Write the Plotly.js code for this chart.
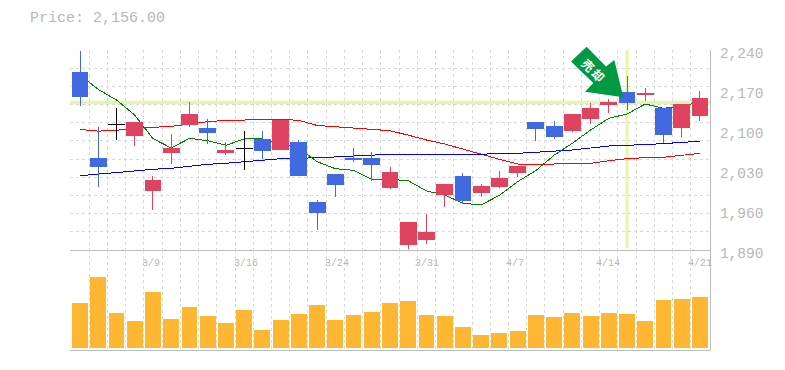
<!DOCTYPE html>
<html><head><meta charset="utf-8">
<script src="https://cdn.plot.ly/plotly-3.0.0.min.js"></script>
<style>html,body{margin:0;padding:0;background:#fff}
.scatterlayer path,.boxlayer path,.barlayer path{shape-rendering:crispEdges}</style>
</head><body><div id="c" style="width:785px;height:370px"></div>
<script>
// all prices in yen, volumes in thousands of shares
const index=[...Array(35).keys()];
const opens =[2201.5,2051,2109.9,2090.1,1993.8,2060.3,2109.3,2103.5,2060.3,2067.9,2083.1,2065.6,2077.3,1972.3,2021.3,2051,2051,1999.1,1899.4,1908.1,1986.8,2019.5,1990.3,2000.8,2025.3,2112.3,2107,2098.8,2119.3,2143.8,2166.5,2162.8,2136.8,2104.1,2125.1];
const closes=[2158.3,2035.8,2110.1,2114,2010.8,2066.8,2128,2095.3,2065,2068.1,2063.8,2115.8,2020.1,1955.3,2004.3,2048.1,2039.3,2026.5,1937.3,1921.5,2003.8,1976.3,2002,2014.3,2037,2103.5,2088.3,2126.3,2138.5,2147.3,2147.8,2163.2,2091.8,2145.5,2156];
const highs =[2238.2,2105.3,2138.5,2114,2019.5,2093,2149,2119.3,2079,2098.3,2098.3,2115.8,2082.5,1977.5,2021.3,2068.5,2061.5,2035.8,1939,1953,2003.8,2024.8,2005.5,2028.3,2037,2112.3,2115.8,2126.3,2147.3,2153.7,2194.5,2173.5,2136.8,2145.5,2168.3];
const lows  =[2142.6,2000.8,2083.1,2072.6,1960.6,2041.1,2105.8,2076.1,2056.8,2030.6,2049.8,2065.6,2020.1,1925.6,1983.3,2044.6,2011.3,1996.8,1892.3,1901.1,1965.8,1971.1,1983.3,1998.5,2017.8,2080.8,2084.8,2096.5,2110.5,2129.8,2135,2150.8,2076.7,2088.3,2115.8];
const black =[2,9];
const maShort=[2196,2171,2152.5,2126,2085,2068.5,2085.4,2081.3,2073.2,2084.3,2084.3,2075.5,2068,2044.6,2032.3,2029.4,2013.7,2013.7,2011.3,1993.3,1986.3,1971.7,1968.8,1985.7,2009.6,2029,2056,2076.7,2100,2120.4,2128,2145.5,2138,2141,2149.6];
const maMid  =[2101,2098,2099.4,2103,2104.7,2106.4,2110.5,2114.6,2116.9,2116.9,2118,2118.7,2116.9,2108,2105.8,2103,2101,2098.8,2091,2082.5,2075.5,2066.2,2056.8,2048.7,2040.5,2040,2040.5,2041.7,2041.7,2046.3,2049.8,2051.6,2052.2,2055.7,2059.2];
const maLong =[2020.1,2022.4,2024.8,2028.3,2031.2,2033,2036.4,2040,2041.7,2044.6,2047.5,2049.8,2050.4,2051,2052.8,2054.5,2056.3,2057.4,2056.3,2056.8,2056.8,2057.4,2057.4,2059.2,2059.2,2061,2062.7,2065,2068.5,2072,2073.2,2074.3,2076.1,2078.4,2080.2];
const volume =[45,71,35,27,56,29,41,32,25,38,18,28,34,43,28,33,36,45,47,33,32,21,13,15,17,33,31,35,32,35,34,27,48,49,51];
const dateLabels=["3/9","3/16","3/24","3/31","4/7","4/14","4/21"];
const dateSlots=[3.5,8.5,13.5,18.43,23.43,28.4,33.45];
const priceTicks=[2240,2170,2100,2030,1960,1890];
const title="Price: 2,156.00";
const signal="売\u2009却";
const refPrice=2148, refIndex=30;

const MONO='"Liberation Mono",monospace', GRAY='#b8b8b8', GRID='#d8d8d8', DASH='3px,3px';
const RED='#e0435f', BLUE='#4169e1', BAND='#e6f5a8', ARROW='#009944';
const xr=[-0.55,34.55];
const isBlack=i=>black.includes(i);
const pick=(a,f)=>a.filter((_,i)=>f(i));
const lineTrace=(y,c)=>({type:'scatter',mode:'lines',x:index,y,xaxis:'x',yaxis:'y',line:{color:c,width:1},hoverinfo:'skip',showlegend:false});
const candle=(f,up,dn)=>({type:'candlestick',x:pick(index,f),open:pick(opens,f),high:pick(highs,f),low:pick(lows,f),close:pick(closes,f),
  xaxis:'x',yaxis:'y2',whiskerwidth:0,showlegend:false,
  increasing:{line:{color:up,width:1},fillcolor:up},decreasing:{line:{color:dn,width:1},fillcolor:dn}});
const data=[
  lineTrace(maMid,'#ff0000'),lineTrace(maLong,'#0000ff'),lineTrace(maShort,'#008000'),
  candle(i=>!isBlack(i),RED,BLUE),
  candle(isBlack,'#000000','#000000'),
  {type:'bar',x:index,y:volume,xaxis:'x3',yaxis:'y3',marker:{color:'#ffb733',line:{width:0}},width:0.87,showlegend:false}
];
const vGrid={tickmode:'linear',tick0:-0.5,dtick:1,showgrid:true,gridcolor:GRID,griddash:DASH,gridwidth:1,showticklabels:false,ticks:'',zeroline:false,range:xr,fixedrange:true};
const layout={
  width:785,height:370,margin:{l:70,r:75,t:50,b:20},paper_bgcolor:'#fff',plot_bgcolor:'rgba(0,0,0,0)',showlegend:false,boxgap:0.13,boxgroupgap:0,bargap:0.12,
  xaxis:Object.assign({},vGrid,{anchor:'y',domain:[0,1],rangeslider:{visible:false},showline:true,linecolor:'#bdbdbd',linewidth:1}),
  xaxis3:Object.assign({},vGrid,{anchor:'y3',domain:[0,1],showline:true,linecolor:'#bdbdbd',linewidth:1}),
  yaxis:{domain:[1/3,1],range:[1890,2240],tickmode:'linear',tick0:1890,dtick:350/11,showgrid:true,gridcolor:GRID,griddash:DASH,gridwidth:1,showticklabels:false,ticks:'',zeroline:false,anchor:'x',fixedrange:true},
  yaxis2:{domain:[1/3,1],range:[1890,2240],overlaying:'y',side:'right',anchor:'x',tickmode:'array',tickvals:priceTicks,ticktext:priceTicks.map(v=>v.toLocaleString('en-US')),showgrid:false,zeroline:false,ticks:'',ticklabelstandoff:6,ticklabelshift:3,tickfont:{family:MONO,size:14.5,color:GRAY},showline:true,linecolor:'#bdbdbd',linewidth:1,fixedrange:true},
  yaxis3:{domain:[0,1/3],range:[-2,98],side:'right',anchor:'x3',showgrid:false,showticklabels:false,ticks:'',zeroline:false,showline:true,linecolor:'#bdbdbd',linewidth:1,fixedrange:true},
  shapes:[
    {type:'line',layer:'below',xref:'x',yref:'y',x0:xr[0],x1:xr[1],y0:refPrice,y1:refPrice,line:{color:BAND,width:3.5}},
    {type:'line',layer:'below',xref:'x',yref:'y',x0:refIndex,x1:refIndex,y0:1893,y1:2240,line:{color:BAND,width:3}},
    {type:'path',layer:'above',xref:'paper',yref:'paper',fillcolor:ARROW,line:{width:0},
     path:'M '+[[571,61.5],[586.7,46.7],[606,66.5],[614.3,60],[623.3,97.3],[585,91.7],[593.3,83]].map(p=>((p[0]-70)/640).toFixed(4)+' '+((350-p[1])/300).toFixed(4)).join(' L ')+' Z'}
  ],
  annotations:[
    {xref:'paper',yref:'paper',x:(28-70)/640,y:(350-18.5)/300,xanchor:'left',yanchor:'middle',showarrow:false,text:title,font:{family:MONO,size:15,color:GRAY}},
    {xref:'paper',yref:'paper',x:(593.5-70)/640,y:(350-69)/300,xanchor:'center',yanchor:'middle',showarrow:false,text:signal,textangle:45,font:{family:'"Noto Sans CJK JP"',size:12,color:'#fff',weight:700}}
  ].concat(dateLabels.map((t,i)=>({xref:'x',yref:'paper',x:dateSlots[i],y:(350-263.5)/300,xanchor:'left',yanchor:'middle',xshift:-3.5,showarrow:false,text:t,font:{family:MONO,size:10,color:GRAY}})))
};
Plotly.newPlot('c',data,layout,{displayModeBar:false,staticPlot:true});
</script></body></html>
